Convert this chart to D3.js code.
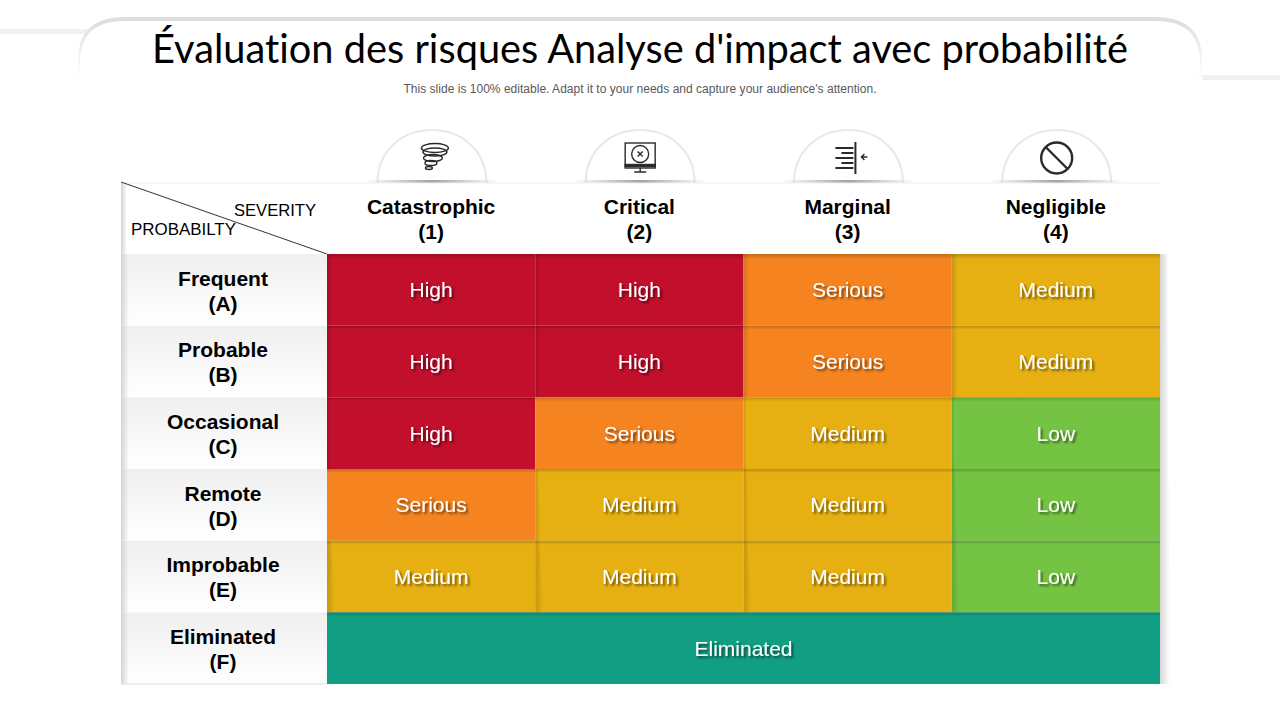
<!DOCTYPE html>
<html>
<head>
<meta charset="utf-8">
<script src="https://cdn.jsdelivr.net/npm/d3@7"></script>
<style>
  html, body { margin: 0; padding: 0; background: #fff; }
  svg { display: block; }
  text { font-family: "Liberation Sans", Arial, sans-serif; }
</style>
</head>
<body>
<div id="chart"></div>
<script>
// the chart's content
const severity = ["Catastrophic", "Critical", "Marginal", "Negligible"];
const severityCode = ["(1)", "(2)", "(3)", "(4)"];
const probability = ["Frequent", "Probable", "Occasional", "Remote", "Improbable", "Eliminated"];
const probabilityCode = ["(A)", "(B)", "(C)", "(D)", "(E)", "(F)"];
const rowA = ["High", "High", "Serious", "Medium"];
const rowB = ["High", "High", "Serious", "Medium"];
const rowC = ["High", "Serious", "Medium", "Low"];
const rowD = ["Serious", "Medium", "Medium", "Low"];
const rowE = ["Medium", "Medium", "Medium", "Low"];
const rowF = ["Eliminated"]; // spans the whole row
const levels = ["High", "Serious", "Medium", "Low", "Eliminated"];
const levelColors = ["#c20f2c", "#f58420", "#e6b012", "#75c343", "#129e82"];

const width = 1280, height = 720;

const svg = d3.select("#chart").append("svg")
  .attr("width", width)
  .attr("height", height);

const defs = svg.append("defs");

function gradient(id, x2, y2, stops) {
  const g = defs.append("linearGradient").attr("id", id)
    .attr("x1", 0).attr("y1", 0).attr("x2", x2).attr("y2", y2);
  stops.forEach(s => g.append("stop").attr("offset", s[0]).attr("stop-color", s[1]).attr("stop-opacity", s[2]));
}
gradient("rowHead", 0, 1, [[0, "#efefef", 1], [1, "#ffffff", 1]]);
gradient("leftEdge", 1, 0, [[0, "#d4d4d4", 1], [1, "#d4d4d4", 0]]);
gradient("rightEdge", 1, 0, [[0, "#d6d6d6", 1], [1, "#d6d6d6", 0]]);
gradient("topShade", 0, 1, [[0, "#000", 0.2], [1, "#000", 0]]);
gradient("leftShade", 1, 0, [[0, "#000", 0.14], [1, "#000", 0.02]]);
gradient("domeBase", 1, 0, [[0, "#999", 0], [0.5, "#999", 0.9], [1, "#999", 0]]);
gradient("tabSide", 0, 1, [[0, "#dcdcdc", 1], [0.7, "#f6f6f6", 1], [1, "#ffffff", 1]]);

const shadow = defs.append("filter").attr("id", "textShadow")
  .attr("x", "-10%").attr("y", "-20%").attr("width", "125%").attr("height", "150%");
shadow.append("feDropShadow")
  .attr("dx", 2).attr("dy", 2).attr("stdDeviation", 0.8)
  .attr("flood-color", "#000").attr("flood-opacity", 0.55);

// title tab
svg.append("rect").attr("x", 0).attr("y", 29).attr("width", 90).attr("height", 5).attr("fill", "#f1f1f1");
svg.append("rect").attr("x", 1190).attr("y", 75).attr("width", 90).attr("height", 5).attr("fill", "#f1f1f1");
svg.append("path")
  .attr("d", "M78,80 V60 Q78,17 125,17 H1155 Q1202,17 1202,60 V80 Z")
  .attr("fill", "url(#tabSide)");
svg.append("path")
  .attr("d", "M80,82 V62 Q80,21 125,21 H1155 Q1200,21 1200,62 Q1200,74 1192,82 Z")
  .attr("fill", "#fff");

svg.append("text")
  .attr("x", 640).attr("y", 63)
  .attr("text-anchor", "middle")
  .attr("textLength", 976).attr("lengthAdjust", "spacingAndGlyphs")
  .style("font-family", "Lato")
  .style("font-size", "40px")
  .style("font-variant-ligatures", "none")
  .attr("fill", "#000")
  .text("Évaluation des risques Analyse d'impact avec probabilité");

svg.append("text")
  .attr("x", 640).attr("y", 93)
  .attr("text-anchor", "middle")
  .attr("textLength", 473)
  .style("font-size", "12px")
  .attr("fill", "#595959")
  .text("This slide is 100% editable. Adapt it to your needs and capture your audience's attention.");

// scales
const x = d3.scaleBand().domain(severity).range([327, 1160]);
const y = d3.scaleBand().domain(probability).range([254, 684]);
const color = d3.scaleOrdinal().domain(levels).range(levelColors);
const headerLeft = 121, headerTop = 183;

// domes with the icons
const dome = svg.append("g").selectAll("g").data(severity).join("g")
  .attr("transform", d => `translate(${x(d) + x.bandwidth() / 2 + 0.8},${headerTop})`);
dome.append("path")
  .attr("d", "M-54.5,0 C-54.5,-32 -30,-53 0,-53 C30,-53 54.5,-32 54.5,0")
  .attr("fill", "#fff")
  .attr("stroke", "#e8e8e8")
  .attr("stroke-width", 2);
dome.append("rect")
  .attr("x", -66).attr("y", -3).attr("width", 132).attr("height", 3)
  .attr("fill", "url(#domeBase)");

svg.append("line")
  .attr("x1", headerLeft).attr("x2", 1160).attr("y1", headerTop).attr("y2", headerTop)
  .attr("stroke", "#f0f0f0");

const iconStroke = "#2a2a2a";
const icons = dome.append("g")
  .attr("fill", "none").attr("stroke", iconStroke).attr("stroke-width", 1.4);

// tornado
const tornado = d3.select(icons.nodes()[0]);
tornado.selectAll("ellipse")
  .data([[3, -35, 13.5, 4.5], [3, -31, 12, 4], [1, -25, 9.5, 3.5], [-1, -20, 6, 2.5], [-3, -15, 3.5, 1.5]])
  .join("ellipse")
  .attr("cx", d => d[0]).attr("cy", d => d[1])
  .attr("rx", d => d[2]).attr("ry", d => d[3]);

// monitor
const monitor = d3.select(icons.nodes()[1]);
monitor.append("rect").attr("x", -15).attr("y", -40).attr("width", 30).attr("height", 25);
monitor.append("rect").attr("x", -15).attr("y", -18.5).attr("width", 30).attr("height", 2).attr("fill", iconStroke);
monitor.append("circle").attr("r", 8.5).attr("cy", -29);
monitor.append("path").attr("d", "M-2.5,-31.5 L2.5,-26.5 M2.5,-31.5 L-2.5,-26.5");
monitor.append("path").attr("d", "M0,-15 V-11 M-6,-11 H6");

// marginal, lines squeezed against a bar
const marginal = d3.select(icons.nodes()[2]);
marginal.append("path")
  .attr("stroke-width", 2)
  .attr("d", "M-13,-35 H5 M-7,-30 H5 M-13,-25 H5 M-7,-20 H5 M-13,-15 H5 M7,-41 V-9");
marginal.append("path")
  .attr("d", "M19,-26 H13 M16,-29 L13,-26 L16,-23");

// negligible
const negligible = d3.select(icons.nodes()[3]);
negligible.append("circle").attr("cy", -25).attr("r", 15.5).attr("stroke-width", 2.4);
negligible.append("path").attr("stroke-width", 2.4).attr("d", "M-11,-36 L11,-14");

// top left header
svg.append("rect")
  .attr("x", headerLeft).attr("y", headerTop).attr("width", 6).attr("height", 71)
  .attr("fill", "url(#leftEdge)");
svg.append("line")
  .attr("x1", headerLeft).attr("y1", headerTop - 1).attr("x2", 327).attr("y2", 254)
  .attr("stroke", "#333");
svg.append("text").attr("x", 234).attr("y", 216)
  .attr("textLength", 82).attr("lengthAdjust", "spacingAndGlyphs")
  .style("font-size", "17px").text("SEVERITY");
svg.append("text").attr("x", 131).attr("y", 235)
  .attr("textLength", 105).attr("lengthAdjust", "spacingAndGlyphs")
  .style("font-size", "17px").text("PROBABILTY");

// column headers
const colHead = svg.append("g").selectAll("text").data(severity).join("text")
  .attr("text-anchor", "middle")
  .attr("fill", "#000")
  .style("font-size", "21px")
  .style("font-weight", "bold");
colHead.append("tspan")
  .attr("x", d => x(d) + x.bandwidth() / 2).attr("y", 214)
  .text(d => d);
colHead.append("tspan")
  .attr("x", d => x(d) + x.bandwidth() / 2).attr("y", 239)
  .text((d, i) => severityCode[i]);

// row headers
const rowHead = svg.append("g").selectAll("g").data(probability).join("g");
rowHead.append("rect")
  .attr("x", headerLeft).attr("y", d => y(d))
  .attr("width", 327 - headerLeft).attr("height", y.bandwidth())
  .attr("fill", "url(#rowHead)");
rowHead.append("path")
  .attr("d", d => `M${headerLeft},${y(d)} h6 l2,${y.bandwidth()} h-8 Z`)
  .attr("fill", "url(#leftEdge)");
const rowText = rowHead.append("text")
  .attr("text-anchor", "middle")
  .attr("fill", "#000")
  .style("font-size", "21px")
  .style("font-weight", "bold");
rowText.append("tspan")
  .attr("x", 223).attr("y", d => y(d) + 31.5)
  .text(d => d);
rowText.append("tspan")
  .attr("x", 223).attr("y", d => y(d) + 56.5)
  .text((d, i) => probabilityCode[i]);
svg.append("line")
  .attr("x1", headerLeft).attr("x2", 327).attr("y1", 684).attr("y2", 684)
  .attr("stroke", "#ddd");

// right edge shadow
svg.append("path")
  .attr("d", `M1160,254 h7 l3,430 h-10 Z`)
  .attr("fill", "url(#rightEdge)");

// cells
const rows = [rowA, rowB, rowC, rowD, rowE, rowF];
const cells = rows.flatMap((row, r) => row.map((level, c) => ({
  level,
  row: probability[r],
  r,
  c,
  span: row.length === 1 ? severity.length : 1
})));
const cellX = d => x(severity[d.c]);
const cellW = d => x.bandwidth() * d.span;

svg.append("g").selectAll("rect").data(cells).join("rect")
  .attr("x", cellX)
  .attr("y", d => y(d.row))
  .attr("width", cellW)
  .attr("height", y.bandwidth())
  .attr("fill", d => color(d.level));

// soft shadow down the left side of most cells, wider towards the bottom rows
const shaded = cells.filter(d => d.span === 1 && !(d.r === 2 && d.c === 1) && !(d.r === 3 && d.c === 0));
svg.append("g").selectAll("path").data(shaded).join("path")
  .attr("d", d => {
    const h = y.bandwidth();
    const top = d.r < 2 ? 5 : 2 + (d.r - 2);
    const bottom = d.r < 2 ? 5 : 3 + (d.r - 2) * 2;
    return `M${cellX(d)},${y(d.row)} h${top} L${cellX(d) + bottom},${y(d.row) + h} h${-bottom} Z`;
  })
  .attr("fill", "url(#leftShade)");
svg.append("g").selectAll("rect").data(cells).join("rect")
  .attr("x", cellX)
  .attr("y", d => y(d.row))
  .attr("width", cellW)
  .attr("height", d => d.r === 0 ? 5 : 4)
  .attr("fill", "url(#topShade)");

svg.append("g").selectAll("text").data(cells).join("text")
  .attr("x", d => cellX(d) + cellW(d) / 2)
  .attr("y", d => y(d.row) + y.bandwidth() / 2 + 7.5)
  .attr("text-anchor", "middle")
  .attr("fill", "#fff")
  .attr("filter", "url(#textShadow)")
  .style("font-size", "21px")
  .text(d => d.level);
</script>
</body>
</html>
